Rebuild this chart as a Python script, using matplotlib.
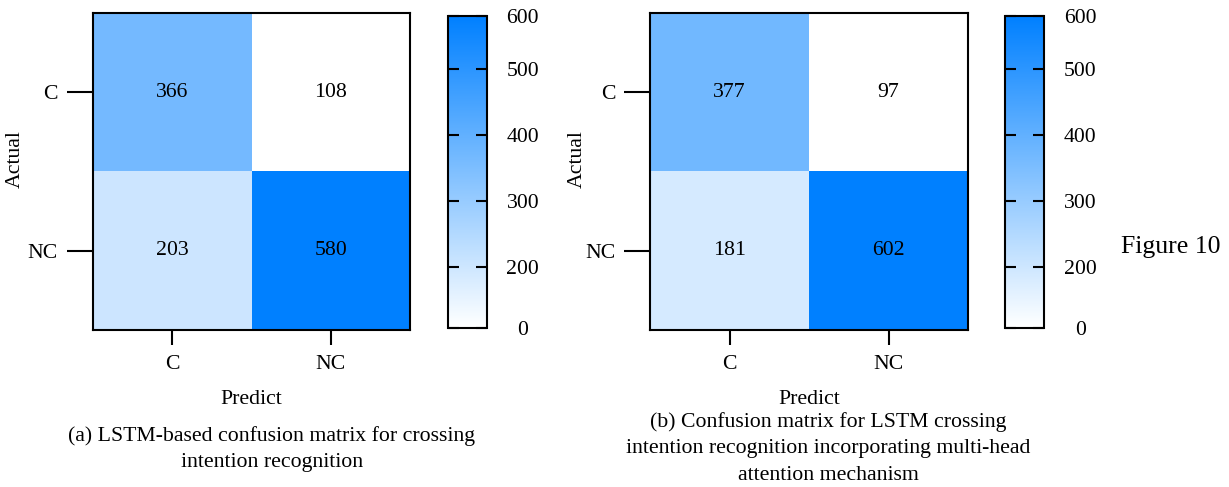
import numpy as np
import matplotlib
matplotlib.use('Agg')
import matplotlib.pyplot as plt
from matplotlib.colors import LinearSegmentedColormap, FuncNorm
from matplotlib.cm import ScalarMappable

plt.rcParams['font.family'] = ['Liberation Serif', 'DejaVu Serif']
plt.rcParams['font.size'] = 15.7

labels = ['C', 'NC']
# rows = actual, cols = predicted
cm_lstm = np.array([[366, 108],
                    [203, 580]])
cm_mha = np.array([[377, 97],
                   [181, 602]])
cbar_ticks = [0, 200, 300, 400, 500, 600]

# colorbar scale is piecewise: values -> fraction of bar height
cbar_vals = [0, 200, 500, 600]
cbar_frac = [0.0, 0.195, 0.829, 1.0]

cap_a = '(a) LSTM-based confusion matrix for crossing\nintention recognition'
cap_b = ('(b) Confusion matrix for LSTM crossing\n'
         'intention recognition incorporating multi-head\nattention mechanism')

blues = LinearSegmentedColormap.from_list('wb', ['#ffffff', '#0080ff'])

W, H = 1229, 487
fig = plt.figure(figsize=(W / 100, H / 100), dpi=100)


def px(x0, y0, x1, y1):
    return [x0 / W, 1 - y1 / H, (x1 - x0) / W, (y1 - y0) / H]


def draw_cm(ax, cm, ylab_x):
    ax.imshow(cm, cmap=blues, vmin=cm.min(), vmax=cm.max(), aspect='auto',
              interpolation='nearest')
    for i in range(2):
        for j in range(2):
            ax.text(j, i, str(cm[i, j]), ha='center', va='center')
    ax.set_xticks(range(2))
    ax.set_yticks(range(2))
    ax.set_xticklabels(labels)
    ax.set_yticklabels(labels)
    ax.tick_params(axis='x', length=11, width=1.5, pad=7)
    ax.tick_params(axis='y', length=19, width=1.5, pad=6)
    for s in ax.spines.values():
        s.set_linewidth(1.5)
    ax.set_xlabel('Predict')
    ax.set_ylabel('Actual')
    ax.xaxis.set_label_coords(0.5, -0.19)
    ax.yaxis.set_label_coords(ylab_x, 0.54)


def draw_cbar(cax):
    norm = FuncNorm((lambda v: np.interp(v, cbar_vals, cbar_frac),
                     lambda f: np.interp(f, cbar_frac, cbar_vals)),
                    vmin=0, vmax=600)
    sm = ScalarMappable(norm=norm, cmap=blues)
    cb = fig.colorbar(sm, cax=cax)
    cb.outline.set_linewidth(1.5)
    cb.set_ticks(cbar_ticks)
    cb.set_ticklabels([str(t) for t in cbar_ticks])
    cax.minorticks_off()
    cax.tick_params(direction='in', left=True, right=True, length=8,
                    width=1.5, pad=26)
    for t in cax.get_yticklabels():
        t.set_ha('center')
    return cb


ax1 = fig.add_axes(px(92.7, 13.3, 410, 330))
draw_cm(ax1, cm_lstm, -0.215)
cax1 = fig.add_axes(px(447.7, 15.7, 486.7, 328))
draw_cbar(cax1)

ax2 = fig.add_axes(px(650, 13.3, 968, 330))
draw_cm(ax2, cm_mha, -0.2)
cax2 = fig.add_axes(px(1005, 15.7, 1044, 328))
draw_cbar(cax2)

fig.text(272 / W, 1 - 449 / H, cap_a, ha='center', va='center',
         multialignment='center', linespacing=1.52)
fig.text(828 / W, 1 - 448.5 / H, cap_b, ha='center', va='center',
         multialignment='center', linespacing=1.52)
fig.text(1171 / W, 1 - 247 / H, 'Figure 10', ha='center', va='center',
         fontsize=18.5)

fig.savefig('out.png', dpi=100)
